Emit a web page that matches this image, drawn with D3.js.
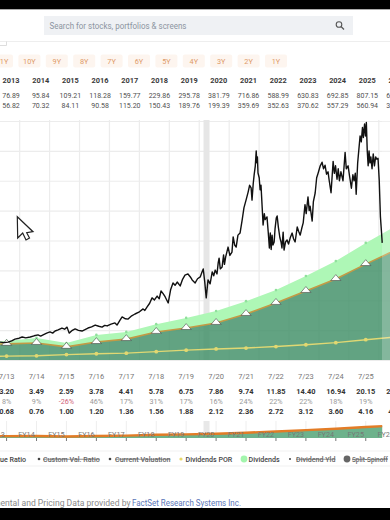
<!DOCTYPE html>
<html>
<head>
<meta charset="utf-8">
<script src="https://cdn.jsdelivr.net/npm/d3@7"></script>
<style>
  html, body { margin: 0; padding: 0; background: #fff; }
  svg { display: block; font-family: Roboto, sans-serif; }
</style>
</head>
<body>
<svg class="svg__chart" width="390" height="520"></svg>
<script>
"use strict";

// top table
const rangeButtons = ["11Y", "10Y", "9Y", "8Y", "7Y", "6Y", "5Y", "4Y", "3Y", "2Y", "1Y"];
const tableYears = ["2013", "2014", "2015", "2016", "2017", "2018", "2019", "2020", "2021", "2022", "2023", "2024", "2025", "2026"];
const highs = ["76.89", "95.84", "109.21", "118.28", "159.77", "229.86", "295.78", "381.79", "716.86", "588.99", "630.83", "692.85", "807.15", "681.00"];
const lows = ["56.82", "70.32", "84.11", "90.58", "115.20", "150.43", "189.76", "199.39", "359.69", "352.63", "370.62", "557.29", "560.94", "392.00"];

// bottom table
const fyLabels = ["7/13", "7/14", "7/15", "7/16", "7/17", "7/18", "7/19", "7/20", "7/21", "7/22", "7/23", "7/24", "7/25"];
const epsLabels = ["3.20", "3.49", "2.59", "3.78", "4.41", "5.78", "6.75", "7.86", "9.74", "11.85", "14.40", "16.94", "20.15", "23.10"];
const epsChange = ["8%", "9%", "-26%", "46%", "17%", "31%", "17%", "16%", "24%", "22%", "22%", "18%", "19%"];
const divLabels = ["0.68", "0.76", "1.00", "1.20", "1.36", "1.56", "1.88", "2.12", "2.36", "2.72", "3.12", "3.60", "4.16", "4.72"];
const navLabels = ["FY13", "FY14", "FY15", "FY16", "FY17", "FY18", "FY19", "FY20", "FY21", "FY22", "FY23", "FY24", "FY25", "FY26"];

// fiscal year ends, first and last are off the edges of the plot
const fyDates = [2012.58, 2013.58, 2014.58, 2015.58, 2016.58, 2017.58, 2018.58, 2019.58, 2020.58, 2021.58, 2022.58, 2023.58, 2024.58, 2025.58, 2026.58];
const earningsLine = [52, 54, 57, 44, 60, 70, 94, 107, 124, 154, 191, 231, 271, 321, 368];
const dividendTop = [60, 64, 74, 57, 84, 94, 120, 141, 164, 197, 234, 281, 331, 392, 448];
const dividendPor = [12, 13, 14, 18, 21, 23, 28, 33, 37, 40, 45, 51, 58, 68, 77];

// price
const priceDates = [2013.36, 2013.5, 2013.63, 2013.75, 2013.86, 2014.0, 2014.1, 2014.22, 2014.37, 2014.5, 2014.63, 2014.72, 2014.8, 2014.92, 2015.03, 2015.12, 2015.2, 2015.3, 2015.43, 2015.52, 2015.6, 2015.67, 2015.76, 2015.87, 2015.98, 2016.1, 2016.2, 2016.3, 2016.42, 2016.54, 2016.66, 2016.77, 2016.86, 2016.94, 2017.07, 2017.2, 2017.27, 2017.36, 2017.44, 2017.55, 2017.64, 2017.76, 2017.87, 2018.0, 2018.14, 2018.2, 2018.27, 2018.36, 2018.44, 2018.52, 2018.61, 2018.68, 2018.74, 2018.81, 2018.88, 2018.98, 2019.06, 2019.14, 2019.21, 2019.28, 2019.38, 2019.46, 2019.54, 2019.64, 2019.72, 2019.78, 2019.88, 2019.96,
  2020.05, 2020.1, 2020.15, 2020.2, 2020.25, 2020.31, 2020.38, 2020.45, 2020.5, 2020.55, 2020.61, 2020.65, 2020.68, 2020.72, 2020.78, 2020.83, 2020.86, 2020.9, 2020.98,
  2021.04, 2021.11, 2021.15, 2021.2, 2021.25, 2021.31, 2021.38, 2021.45, 2021.51, 2021.58, 2021.65, 2021.7, 2021.75, 2021.78, 2021.82, 2021.85, 2021.89, 2021.92, 2021.94, 2021.96, 2021.98,
  2022.02, 2022.05, 2022.08, 2022.12, 2022.15, 2022.19, 2022.22, 2022.28, 2022.32, 2022.36, 2022.39, 2022.42, 2022.45, 2022.48, 2022.52, 2022.55, 2022.59, 2022.62, 2022.66, 2022.71, 2022.75, 2022.78, 2022.82, 2022.85, 2022.9, 2022.95,
  2023.0, 2023.06, 2023.12, 2023.17, 2023.22, 2023.29, 2023.34, 2023.39, 2023.44, 2023.49, 2023.55, 2023.59, 2023.65, 2023.69, 2023.72, 2023.79, 2023.83, 2023.89, 2023.94, 2023.99,
  2024.06, 2024.12, 2024.17, 2024.22, 2024.27, 2024.32, 2024.36, 2024.42, 2024.49, 2024.53, 2024.57, 2024.62, 2024.66, 2024.7, 2024.75, 2024.82, 2024.89, 2024.93, 2024.99,
  2025.04, 2025.1, 2025.15, 2025.19, 2025.23, 2025.26, 2025.31, 2025.39, 2025.43, 2025.47, 2025.5, 2025.54, 2025.57, 2025.6, 2025.63, 2025.66, 2025.69, 2025.72, 2025.75, 2025.79, 2025.83, 2025.87, 2025.91, 2025.95, 2025.99,
  2026.03, 2026.07, 2026.13];
const priceValues = [60, 58, 60, 64, 70, 73, 77, 74, 77, 81, 84, 80, 84, 90, 94, 90, 97, 101, 107, 103, 110, 90, 98, 104, 99, 97, 102, 107, 111, 117, 113, 110, 116, 114, 120, 124, 117, 132, 144, 138, 137, 148, 154, 160, 171, 166, 177, 190, 208, 201, 214, 205, 231, 222, 211, 191, 235, 258, 250, 261, 248, 270, 284, 288, 278, 268, 258, 272,
  278, 292, 305, 262, 208, 268, 255, 295, 282, 301, 288, 325, 341, 305, 311, 352, 320, 345, 378,
  350, 361, 412, 385, 378, 418, 425, 468, 509, 535, 562, 585, 576, 535, 590, 619, 650, 700, 660, 680, 626,
  610, 570, 585, 510, 452, 490, 470, 479, 430, 375, 425, 370, 418, 385, 395, 440, 475, 482, 445, 410, 395, 375, 428, 368, 395, 402,
  388, 410, 425, 405, 395, 445, 430, 418, 440, 459, 520, 490, 546, 500, 515, 465, 530, 559, 610, 626,
  650, 662, 640, 652, 622, 630, 600, 560, 665, 625, 650, 605, 640, 600, 630, 600, 695, 640, 650,
  615, 575, 620, 600, 625, 555, 660, 750, 730, 778, 745, 790, 750, 795, 700, 650, 700, 660, 680, 640, 690, 650, 680, 672, 675,
  602, 480, 392];

const gridValues = [0, 100, 200, 300, 400, 500, 600, 700, 800];
const gridYears = [2014, 2015, 2016, 2017, 2018, 2019, 2020, 2021, 2022, 2023, 2024, 2025, 2026];
const recession = [2020.16, 2020.36];

const svg = d3.select(".svg__chart");
const width = +svg.attr("width");

const x = d3.scaleLinear().domain([2013.36, 2026.39]).range([0, width]);
const y = d3.scaleLinear().domain([0, 800]).range([360, 121]);
const navY = d3.scaleLinear().domain([0, 800]).range([438, 410.6]);
const tableX = d3.scalePoint().domain(tableYears).range([11, 397]);
const fyX = (i) => x(fyDates[i + 1]);

// phone bars and search box
svg.append("rect").attr("width", width).attr("height", 9).attr("fill", "#000");
svg.append("rect").attr("y", 9).attr("width", width).attr("height", 1).attr("fill", "#aaa");
svg.append("rect").attr("y", 508).attr("width", width).attr("height", 12).attr("fill", "#000");
svg.append("rect").attr("x", 44).attr("y", 16).attr("width", 309).attr("height", 19).attr("fill", "#eff1f4");
svg.append("text").attr("x", 49.5).attr("y", 28.5).attr("font-size", 9.2).attr("fill", "#8d95a1")
  .attr("textLength", 137).attr("lengthAdjust", "spacingAndGlyphs")
  .text("Search for stocks, portfolios & screens");
svg.append("circle").attr("cx", 339).attr("cy", 24.5).attr("r", 2.8)
  .attr("fill", "none").attr("stroke", "#555").attr("stroke-width", 1.1);
svg.append("line").attr("x1", 341).attr("y1", 26.5).attr("x2", 344).attr("y2", 29.5)
  .attr("stroke", "#555").attr("stroke-width", 1.3);
svg.append("line").attr("x1", 0).attr("x2", width).attr("y1", 41.5).attr("y2", 41.5).attr("stroke", "#eee");
svg.append("path").attr("d", "M0,45.5H6.5V41.5").attr("fill", "none").attr("stroke", "#ddd");

// range buttons
const buttonX = d3.scalePoint().domain(rangeButtons).range([2, 276]);
const buttons = svg.append("g").selectAll("g").data(rangeButtons).enter().append("g")
  .attr("transform", (d) => `translate(${buttonX(d)},61)`);
buttons.append("rect").attr("x", -11).attr("y", -6.5).attr("width", 22).attr("height", 13).attr("rx", 2).attr("fill", "#fdf5ef");
buttons.append("text").attr("text-anchor", "middle").attr("y", 3).attr("font-size", 7.3).attr("fill", "#dd9a68").text((d) => d);

// years, highs and lows
const topRows = [
  { values: tableYears, y: 83, weight: 700, color: "#3a3a3a", size: 7.4 },
  { values: highs, y: 97.5, weight: 400, color: "#4f4f4f", size: 7 },
  { values: lows, y: 108, weight: 400, color: "#4f4f4f", size: 7 },
];
topRows.forEach((row) => {
  svg.append("g").selectAll("text").data(row.values).enter().append("text")
    .attr("x", (d, i) => tableX(tableYears[i]))
    .attr("y", row.y)
    .attr("text-anchor", "middle")
    .attr("font-size", row.size)
    .attr("font-weight", row.weight)
    .attr("fill", row.color)
    .text((d) => d);
});

// grid
svg.append("g")
  .attr("transform", "translate(0,360)")
  .call(d3.axisBottom(x).tickValues(gridYears).tickSize(-240).tickFormat(""))
  .call((g) => g.select(".domain").remove())
  .call((g) => g.selectAll("line").attr("stroke", "#ececec").attr("stroke-width", 1.2));
svg.append("g")
  .call(d3.axisLeft(y).tickValues(gridValues).tickSize(-width).tickFormat(""))
  .call((g) => g.select(".domain").remove())
  .call((g) => g.selectAll("line").attr("stroke", "#ececec").attr("stroke-width", 1.2));
svg.append("rect")
  .attr("x", x(recession[0])).attr("y", 120)
  .attr("width", x(recession[1]) - x(recession[0])).attr("height", 240)
  .attr("fill", "#e6e6e6");

// areas and lines
const fyIndex = d3.range(fyDates.length);
const dividendArea = d3.area().x((i) => x(fyDates[i])).y0((i) => y(earningsLine[i])).y1((i) => y(dividendTop[i]));
const earningsArea = d3.area().x((i) => x(fyDates[i])).y0(y(0)).y1((i) => y(earningsLine[i]));
const lineOf = (values) => d3.line().x((i) => x(fyDates[i])).y((i) => y(values[i]));

svg.append("path").datum(fyIndex).attr("d", dividendArea).attr("fill", "#aef7b6");
svg.append("path").datum(fyIndex).attr("d", earningsArea).attr("fill", "#3f8f66").attr("fill-opacity", 0.82);
svg.append("path").datum(fyIndex).attr("d", lineOf(earningsLine)).attr("fill", "none").attr("stroke", "#c39a45").attr("stroke-width", 1.6);
svg.append("path").datum(fyIndex).attr("d", lineOf(dividendPor)).attr("fill", "none").attr("stroke", "#e0d873").attr("stroke-width", 1.4);

svg.append("g").selectAll("circle").data(fyIndex).enter().append("circle")
  .attr("cx", (i) => x(fyDates[i])).attr("cy", (i) => y(dividendTop[i])).attr("r", 1.3).attr("fill", "#8fe09b");
svg.append("g").selectAll("circle").data(fyIndex).enter().append("circle")
  .attr("cx", (i) => x(fyDates[i])).attr("cy", (i) => y(dividendPor[i])).attr("r", 1.9).attr("fill", "#e2d870");
svg.append("g").selectAll("path").data(fyIndex).enter().append("path")
  .attr("d", d3.symbol().type(d3.symbolTriangle).size(28))
  .attr("transform", (i) => `translate(${x(fyDates[i])},${y(earningsLine[i]) - 0.5}) scale(1.25,0.85)`)
  .attr("fill", "#fff").attr("stroke", "#333").attr("stroke-width", 0.5).attr("stroke-linejoin", "round");

// lighter part for the estimates
svg.append("rect").attr("x", 382).attr("y", 120).attr("width", 8).attr("height", 240).attr("fill", "#fff").attr("fill-opacity", 0.22);

// price
const priceLine = d3.line().x((d, i) => x(priceDates[i])).y((d) => y(d));
svg.append("path").datum(priceValues).attr("d", priceLine)
  .attr("fill", "none").attr("stroke", "#111").attr("stroke-width", 1.4).attr("stroke-linejoin", "round");

// mouse pointer that was in the screenshot
svg.append("path").attr("d", "M17.3,216.7L33,231.7L26.7,232.7L29.5,238L26,240L22.7,233L17.7,238Z")
  .attr("fill", "#fff").attr("stroke", "#222").attr("stroke-width", 1.2);

// bottom table
const bottomRows = [
  { values: fyLabels, y: 379, weight: 400, color: "#777", size: 7.5 },
  { values: epsLabels, y: 393.5, weight: 700, color: "#333", size: 7.4 },
  { values: epsChange, y: 403.5, weight: 400, color: "#999", size: 7.2 },
  { values: divLabels, y: 414, weight: 700, color: "#333", size: 7.4 },
];
bottomRows.forEach((row) => {
  svg.append("g").selectAll("text").data(row.values).enter().append("text")
    .attr("x", (d, i) => fyX(i))
    .attr("y", row.y)
    .attr("text-anchor", "middle")
    .attr("font-size", row.size)
    .attr("font-weight", row.weight)
    .attr("fill", (d) => (d.startsWith("-") ? "#d0627a" : row.color))
    .text((d) => d);
});

// navigator strip
const nav = svg.append("g");
nav.append("rect").attr("x", x(recession[0])).attr("y", 421).attr("width", x(recession[1]) - x(recession[0])).attr("height", 11).attr("fill", "#e8e8e8");
nav.selectAll(".nav-grid").data(fyLabels).enter().append("line")
  .attr("x1", (d, i) => fyX(i)).attr("x2", (d, i) => fyX(i)).attr("y1", 421).attr("y2", 438).attr("stroke", "#eee");
const navIndex = fyIndex.filter((i) => x(fyDates[i]) < 420);
const navEnd = x(2026.13);
svg.append("clipPath").attr("id", "nav-clip").append("rect").attr("x", 0).attr("y", 415).attr("width", navEnd).attr("height", 30);
const navPlot = nav.append("g").attr("clip-path", "url(#nav-clip)");
navPlot.append("path").datum(navIndex)
  .attr("d", d3.area().x((i) => x(fyDates[i])).y0(438).y1((i) => navY(earningsLine[i])))
  .attr("fill", "#6db28c");
nav.selectAll(".nav-label").data(navLabels).enter().append("text")
  .attr("x", (d, i) => fyX(i) - 10)
  .attr("y", 437)
  .attr("text-anchor", "middle")
  .attr("font-size", 7.2)
  .attr("fill", "#777")
  .text((d) => d);
navPlot.append("path").datum(navIndex)
  .attr("d", d3.line().x((i) => x(fyDates[i])).y((i) => navY(earningsLine[i])))
  .attr("fill", "none").attr("stroke", "#e37c26").attr("stroke-width", 2.4);
nav.selectAll(".nav-tick").data(fyLabels).enter().append("line")
  .attr("x1", (d, i) => fyX(i)).attr("x2", (d, i) => fyX(i)).attr("y1", 438).attr("y2", 441).attr("stroke", "#777");

// legend
const legendNames = ["Value Ratio", "Custom Val. Ratio", "Current Valuation", "Dividends POR", "Dividends", "Dividend Yld", "Split-Spinoff"];
const legendStruck = [false, true, true, false, false, true, true];
const legendText = [26, 43, 115, 185.5, 248.5, 296, 352];
const legendDotX = [null, 39, 110, 181, 244, 290, 347];
const legendDotR = [0, 1.3, 1.3, 1.6, 3.4, 1, 3.4];
const legendDot = ["#444", "#444", "#444", "#e8d76a", "#a3f5ad", "#444", "#666"];

svg.append("rect").attr("x", -2).attr("y", 451).attr("width", 394).attr("height", 15).attr("fill", "#fff")
  .attr("stroke", "#f1f1f1");
legendNames.forEach((name, i) => {
  svg.append("text")
    .attr("x", legendText[i])
    .attr("y", 461.5)
    .attr("text-anchor", i === 0 ? "end" : "start")
    .attr("font-size", name === "Split-Spinoff" ? 6.4 : 7.1)
    .attr("font-weight", 500)
    .attr("fill", legendStruck[i] ? "#666" : "#444")
    .attr("text-decoration", legendStruck[i] ? "line-through" : null)
    .text(name);
  if (legendDotX[i] !== null) {
    svg.append("circle").attr("cx", legendDotX[i]).attr("cy", 459).attr("r", legendDotR[i]).attr("fill", legendDot[i]);
  }
});

// footer
svg.append("text").attr("x", 130.5).attr("y", 506).attr("text-anchor", "end").attr("font-size", 8.6).attr("fill", "#8a8a8a")
  .text("Fundamental and Pricing Data provided by");
svg.append("text").attr("x", 132).attr("y", 506).attr("font-size", 8.6).attr("fill", "#5b76b8")
  .attr("textLength", 109).attr("lengthAdjust", "spacingAndGlyphs")
  .text("FactSet Research Systems Inc.");
</script>
</body>
</html>
